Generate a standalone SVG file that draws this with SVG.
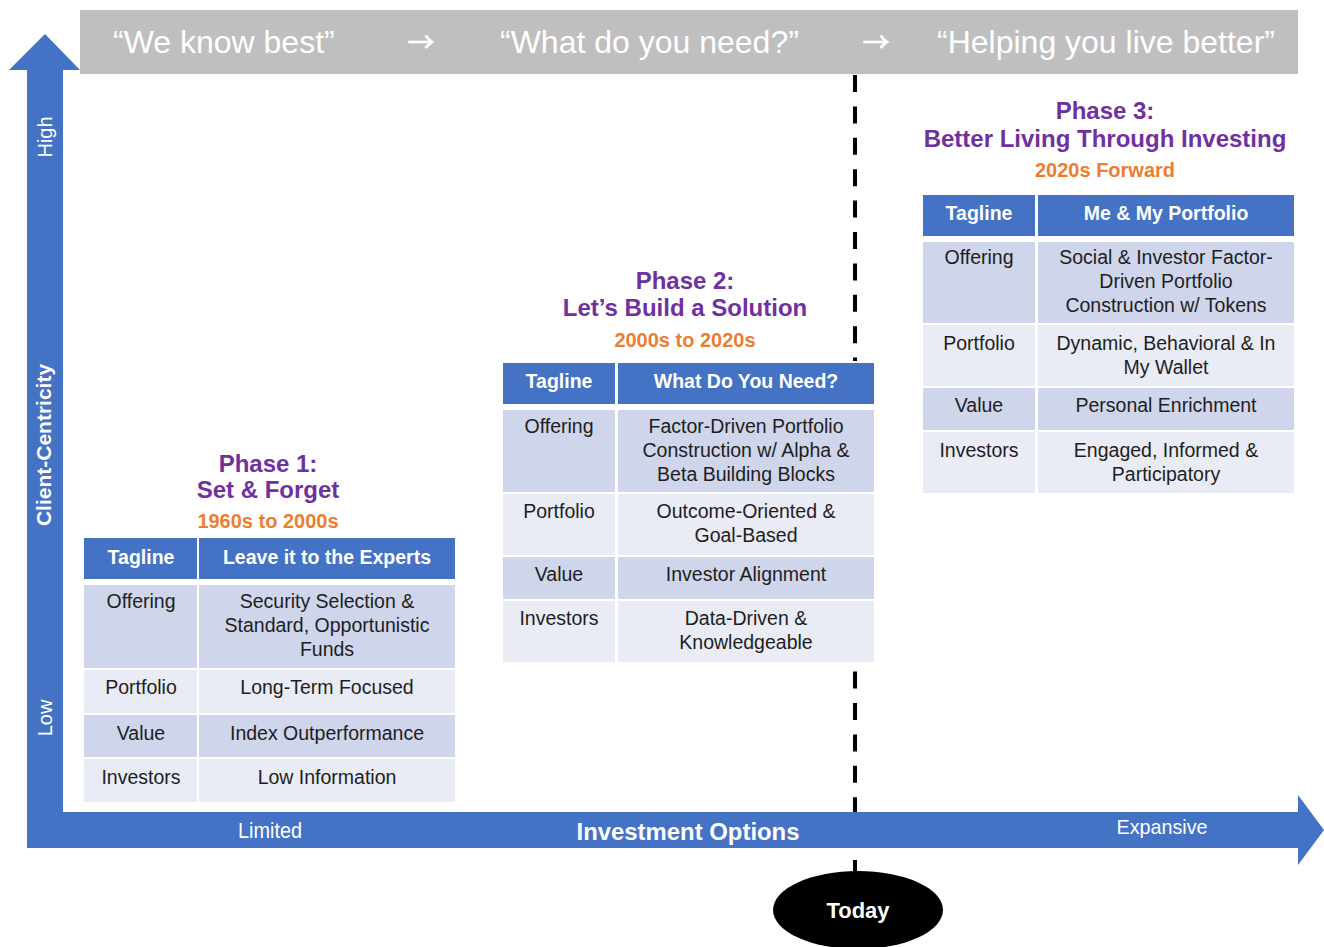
<svg xmlns="http://www.w3.org/2000/svg" width="1324" height="947" viewBox="0 0 1324 947">
  <style>
    text { font-family: "Liberation Sans", Arial, sans-serif; }
    .banner { fill: #ffffff; font-size: 32px; }
    .banner-arrow { fill: #ffffff; font-size: 27px; font-family: "Noto Sans CJK JP", "DejaVu Sans", sans-serif; text-anchor: middle; }
    .axis { fill: #4472C4; }
    .axis-lbl { fill: #ffffff; font-size: 20px; text-anchor: middle; }
    .axis-bold { font-weight: bold; }
    .title { fill: #7030A0; font-size: 24px; font-weight: bold; text-anchor: middle; }
    .era { fill: #ED7D31; font-size: 20px; font-weight: bold; text-anchor: middle; }
    .bg { fill: #ffffff; }
    .hd { fill: #4472C4; }
    .hd-t { fill: #ffffff; font-size: 19.5px; font-weight: bold; text-anchor: middle; }
    .dark { fill: #CFD5EA; }
    .light { fill: #E9EBF5; }
    .cell { fill: #1e1e1e; font-size: 19.5px; text-anchor: middle; }
    .today-line { stroke: #000000; stroke-width: 4; stroke-dasharray: 17 14.4; fill: none; }
  </style>

  <rect width="1324" height="947" fill="#ffffff"/>

  <!-- banner of slogans -->
  <g id="banner">
    <rect x="80" y="10" width="1218" height="64" fill="#BFBFBF"/>
    <text class="banner" x="113" y="53">“We know best”</text>
    <text class="banner-arrow" x="421" y="52" stroke="#ffffff" stroke-width="0.6">→</text>
    <text class="banner" x="500" y="53">“What do you need?”</text>
    <text class="banner-arrow" x="876" y="52" stroke="#ffffff" stroke-width="0.6">→</text>
    <text class="banner" x="937" y="53">“Helping you live better”</text>
  </g>

  <!-- connectors: the dashed "today" marker -->
  <g id="connectors">
    <line class="today-line" x1="855" y1="75" x2="855" y2="885"/>
  </g>

  <!-- vertical axis: client-centricity -->
  <g id="y-axis">
    <polygon class="axis" points="45,34 80,70 63,70 63,848 27,848 27,70 9,70"/>
    <text class="axis-lbl" transform="translate(52,137) rotate(-90)">High</text>
    <text class="axis-lbl axis-bold" transform="translate(51,445) rotate(-90)" style="font-size:21px">Client-Centricity</text>
    <text class="axis-lbl" transform="translate(52,718) rotate(-90)">Low</text>
  </g>

  <!-- horizontal axis: investment options -->
  <g id="x-axis">
    <polygon class="axis" points="27,812 1298,812 1298,795 1324,830 1298,865 1298,848 27,848"/>
    <text class="axis-lbl" x="270" y="838" style="font-size:22px" textLength="64" lengthAdjust="spacingAndGlyphs">Limited</text>
    <text class="axis-lbl axis-bold" x="688" y="840" style="font-size:23px" textLength="223" lengthAdjust="spacingAndGlyphs">Investment Options</text>
    <text class="axis-lbl" x="1162" y="834" style="font-size:21px" textLength="91" lengthAdjust="spacingAndGlyphs">Expansive</text>
  </g>

  <!-- today marker -->
  <g id="today">
    <ellipse cx="858" cy="910" rx="85" ry="39" fill="#000000"/>
    <text x="858" y="918" fill="#ffffff" text-anchor="middle" font-weight="bold" style="font-size:22px" textLength="63" lengthAdjust="spacingAndGlyphs">Today</text>
  </g>

  <!-- phase 1 -->
  <g id="phase1">
    <text class="title" x="268" y="472">Phase 1:</text>
    <text class="title" x="268" y="498">Set &amp; Forget</text>
    <text class="era" x="268" y="528">1960s to 2000s</text>
    <rect class="bg" x="84" y="538" width="371" height="264"/>
    <rect class="hd" x="84" y="538" width="113" height="41"/>
    <rect class="hd" x="199" y="538" width="256" height="41"/>
    <rect class="dark" x="84" y="585" width="113" height="83"/>
    <rect class="dark" x="199" y="585" width="256" height="83"/>
    <rect class="light" x="84" y="670" width="113" height="43"/>
    <rect class="light" x="199" y="670" width="256" height="43"/>
    <rect class="dark" x="84" y="715" width="113" height="42"/>
    <rect class="dark" x="199" y="715" width="256" height="42"/>
    <rect class="light" x="84" y="759" width="113" height="43"/>
    <rect class="light" x="199" y="759" width="256" height="43"/>
    <text class="hd-t" x="141" y="564">Tagline</text>
    <text class="hd-t" x="327" y="564">Leave it to the Experts</text>
    <text class="cell" x="141" y="608">Offering</text>
    <text class="cell" x="327" y="608">Security Selection &amp;</text>
    <text class="cell" x="327" y="632">Standard, Opportunistic</text>
    <text class="cell" x="327" y="656">Funds</text>
    <text class="cell" x="141" y="694">Portfolio</text>
    <text class="cell" x="327" y="694">Long-Term Focused</text>
    <text class="cell" x="141" y="740">Value</text>
    <text class="cell" x="327" y="740">Index Outperformance</text>
    <text class="cell" x="141" y="784">Investors</text>
    <text class="cell" x="327" y="784">Low Information</text>
  </g>

  <!-- phase 2 -->
  <g id="phase2">
    <text class="title" x="685" y="289">Phase 2:</text>
    <text class="title" x="685" y="316">Let’s Build a Solution</text>
    <text class="era" x="685" y="347">2000s to 2020s</text>
    <rect class="bg" x="503" y="361" width="371" height="301"/>
    <rect class="hd" x="503" y="363" width="112" height="41"/>
    <rect class="hd" x="618" y="363" width="256" height="41"/>
    <rect class="dark" x="503" y="410" width="112" height="82"/>
    <rect class="dark" x="618" y="410" width="256" height="82"/>
    <rect class="light" x="503" y="494" width="112" height="61"/>
    <rect class="light" x="618" y="494" width="256" height="61"/>
    <rect class="dark" x="503" y="557" width="112" height="42"/>
    <rect class="dark" x="618" y="557" width="256" height="42"/>
    <rect class="light" x="503" y="601" width="112" height="61"/>
    <rect class="light" x="618" y="601" width="256" height="61"/>
    <text class="hd-t" x="559" y="388">Tagline</text>
    <text class="hd-t" x="746" y="388">What Do You Need?</text>
    <text class="cell" x="559" y="433">Offering</text>
    <text class="cell" x="746" y="433">Factor-Driven Portfolio</text>
    <text class="cell" x="746" y="457">Construction w/ Alpha &amp;</text>
    <text class="cell" x="746" y="481">Beta Building Blocks</text>
    <text class="cell" x="559" y="518">Portfolio</text>
    <text class="cell" x="746" y="518">Outcome-Oriented &amp;</text>
    <text class="cell" x="746" y="542">Goal-Based</text>
    <text class="cell" x="559" y="581">Value</text>
    <text class="cell" x="746" y="581">Investor Alignment</text>
    <text class="cell" x="559" y="625">Investors</text>
    <text class="cell" x="746" y="625">Data-Driven &amp;</text>
    <text class="cell" x="746" y="649">Knowledgeable</text>
  </g>

  <!-- phase 3 -->
  <g id="phase3">
    <text class="title" x="1105" y="119">Phase 3:</text>
    <text class="title" x="1105" y="147">Better Living Through Investing</text>
    <text class="era" x="1105" y="177">2020s Forward</text>
    <rect class="bg" x="923" y="195" width="371" height="298"/>
    <rect class="hd" x="923" y="195" width="112" height="41"/>
    <rect class="hd" x="1038" y="195" width="256" height="41"/>
    <rect class="dark" x="923" y="242" width="112" height="81"/>
    <rect class="dark" x="1038" y="242" width="256" height="81"/>
    <rect class="light" x="923" y="325" width="112" height="61"/>
    <rect class="light" x="1038" y="325" width="256" height="61"/>
    <rect class="dark" x="923" y="388" width="112" height="42"/>
    <rect class="dark" x="1038" y="388" width="256" height="42"/>
    <rect class="light" x="923" y="432" width="112" height="61"/>
    <rect class="light" x="1038" y="432" width="256" height="61"/>
    <text class="hd-t" x="979" y="220">Tagline</text>
    <text class="hd-t" x="1166" y="220">Me &amp; My Portfolio</text>
    <text class="cell" x="979" y="264">Offering</text>
    <text class="cell" x="1166" y="264">Social &amp; Investor Factor-</text>
    <text class="cell" x="1166" y="288">Driven Portfolio</text>
    <text class="cell" x="1166" y="312">Construction w/ Tokens</text>
    <text class="cell" x="979" y="350">Portfolio</text>
    <text class="cell" x="1166" y="350">Dynamic, Behavioral &amp; In</text>
    <text class="cell" x="1166" y="374">My Wallet</text>
    <text class="cell" x="979" y="412">Value</text>
    <text class="cell" x="1166" y="412">Personal Enrichment</text>
    <text class="cell" x="979" y="457">Investors</text>
    <text class="cell" x="1166" y="457">Engaged, Informed &amp;</text>
    <text class="cell" x="1166" y="481">Participatory</text>
  </g>
</svg>
